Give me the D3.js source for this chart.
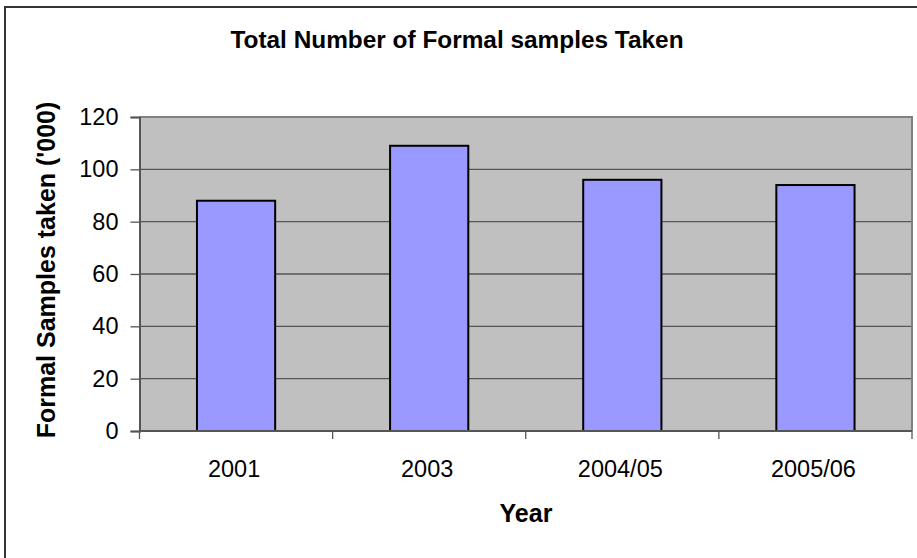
<!DOCTYPE html>
<html>
<head>
<meta charset="utf-8">
<script src="https://cdn.jsdelivr.net/npm/d3@7"></script>
<style>
  html, body { margin: 0; padding: 0; background: #fff; }
  svg { display: block; font-family: "Liberation Sans", Arial, sans-serif; }
</style>
</head>
<body>
<svg width="917" height="558"></svg>
<script>
const years = ["2001", "2003", "2004/05", "2005/06"];
const samples = [88, 109, 96, 94];
const yTicks = [0, 20, 40, 60, 80, 100, 120];

const svg = d3.select("svg");
const plot = {left: 139.5, top: 117, right: 912, bottom: 431};

// outer chart border (runs off the bottom/right edge)
svg.append("rect")
    .attr("x", 5).attr("y", 7)
    .attr("width", 940).attr("height", 600)
    .attr("fill", "none")
    .attr("stroke", "#333")
    .attr("stroke-width", 2);

const x = d3.scaleBand()
    .domain(years)
    .range([plot.left, plot.right])
    .paddingInner(0.595)
    .paddingOuter(0.2975);

const y = d3.scaleLinear()
    .domain([0, 120])
    .range([plot.bottom, plot.top]);

// plot background
svg.append("rect")
    .attr("x", plot.left).attr("y", plot.top)
    .attr("width", plot.right - plot.left)
    .attr("height", plot.bottom - plot.top)
    .attr("fill", "#c0c0c0");

// gridlines
svg.append("g")
    .selectAll("line")
    .data(yTicks.filter(d => d > 0 && d < 120))
    .join("line")
    .attr("x1", plot.left).attr("x2", plot.right)
    .attr("y1", d => y(d)).attr("y2", d => y(d))
    .attr("stroke", "#555")
    .attr("stroke-width", 1.3);

// top & right border of plot area
svg.append("path")
    .attr("d", `M${plot.left},${plot.top}H${plot.right}V${plot.bottom}`)
    .attr("fill", "none")
    .attr("stroke", "#808080")
    .attr("stroke-width", 2);

// bars
svg.append("g")
    .selectAll("rect")
    .data(samples)
    .join("rect")
    .attr("x", (d, i) => x(years[i]))
    .attr("y", d => y(d))
    .attr("width", x.bandwidth())
    .attr("height", d => y(0) - y(d))
    .attr("fill", "#9999ff")
    .attr("stroke", "#000")
    .attr("stroke-width", 2);

// y axis
const yAxis = svg.append("g")
    .attr("transform", `translate(${plot.left},0)`)
    .call(d3.axisLeft(y).tickValues(yTicks).tickSize(9).tickPadding(12));
yAxis.select(".domain").attr("stroke", "#555").attr("stroke-width", 2);
yAxis.selectAll(".tick line").attr("stroke", "#555").attr("stroke-width", 1.3);
yAxis.selectAll(".tick text")
    .attr("fill", "#000")
    .style("font-size", "23.5px")
    .style("font-family", "Liberation Sans, Arial, sans-serif");

// x axis: ticks sit on the category boundaries
const bounds = d3.range(years.length + 1).map(i => plot.left + i * x.step());
svg.append("line")
    .attr("x1", plot.left).attr("x2", plot.right)
    .attr("y1", plot.bottom).attr("y2", plot.bottom)
    .attr("stroke", "#555").attr("stroke-width", 2);
svg.append("g")
    .selectAll("line")
    .data(bounds)
    .join("line")
    .attr("x1", d => d).attr("x2", d => d)
    .attr("y1", plot.bottom).attr("y2", plot.bottom + 8)
    .attr("stroke", "#555").attr("stroke-width", 1.3);
svg.append("g")
    .selectAll("text")
    .data(years)
    .join("text")
    .attr("x", d => x(d) + x.bandwidth() / 2 - 2)
    .attr("y", 477)
    .attr("text-anchor", "middle")
    .style("font-size", "23.5px")
    .text(d => d);

// titles
svg.append("text")
    .attr("x", 457).attr("y", 48)
    .attr("text-anchor", "middle")
    .style("font-size", "24.4px").style("font-weight", "bold")
    .text("Total Number of Formal samples Taken");

svg.append("text")
    .attr("x", 526).attr("y", 522)
    .attr("text-anchor", "middle")
    .style("font-size", "25px").style("font-weight", "bold")
    .text("Year");

svg.append("text")
    .attr("transform", "translate(55,270) rotate(-90)")
    .attr("text-anchor", "middle")
    .style("font-size", "25px").style("font-weight", "bold")
    .text("Formal Samples taken ('000)");
</script>
</body>
</html>
